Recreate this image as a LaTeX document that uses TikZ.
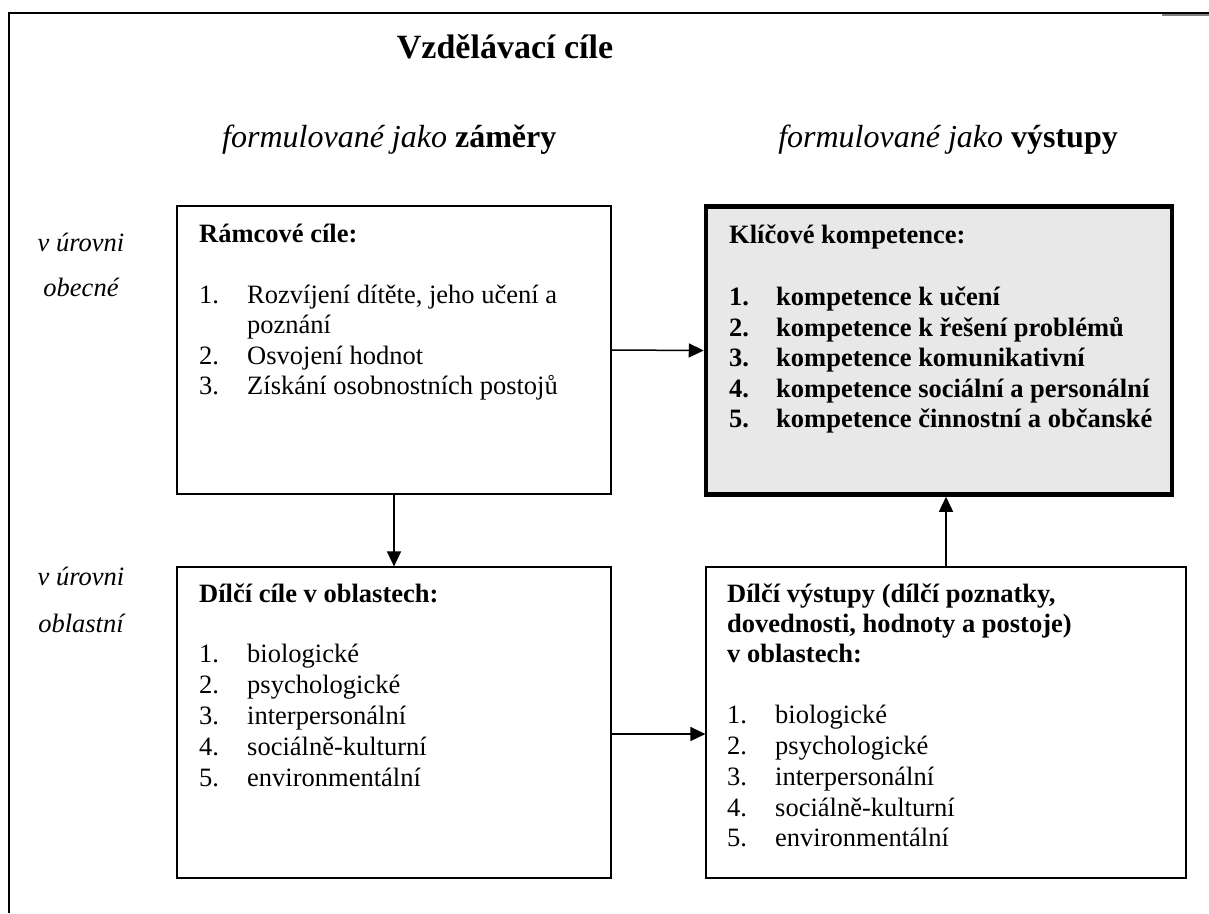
\documentclass[tikz,border=0pt]{standalone}
\usepackage{fontspec}
\setmainfont{Liberation Serif}
\usetikzlibrary{arrows.meta,calc}
\definecolor{boxgray}{RGB}{232,232,232}
\begin{document}
\begin{tikzpicture}[x=1pt,y=-1pt,
  box/.style={draw=black, line width=1.2pt, rectangle, inner sep=0pt},
  thickbox/.style={draw=black, line width=4.5pt, fill=boxgray, rectangle, inner sep=0pt},
  txt/.style={anchor=base west, inner sep=0pt, font=\fontsize{26.5}{30}\selectfont},
  btxt/.style={txt, font=\fontsize{26.5}{30}\selectfont\bfseries},
  lbl/.style={anchor=base, inner sep=0pt, font=\fontsize{26.5}{30}\selectfont\itshape},
  arr/.style={line width=1.5pt, -{Triangle[length=15pt,width=14pt]}},
  frame/.style={line width=2pt, black}]
\useasboundingbox (0,0) rectangle (1209,913);
% outer frame
\draw[frame] (9,913) -- (9,13) -- (1209,13);
\draw[line width=1.5pt, gray] (1162,15) -- (1209,15);
% title and headings
\node[anchor=base, inner sep=0pt, font=\fontsize{34}{40}\selectfont\bfseries] (title) at (505,58) {Vzdělávací cíle};
\node[anchor=base west, inner sep=0pt, font=\fontsize{32}{38}\selectfont] (h1) at (222,147) {\textit{formulované jako} \textbf{záměry}};
\node[anchor=base east, inner sep=0pt, font=\fontsize{32}{38}\selectfont] (h2) at (1118,147) {\textit{formulované jako} \textbf{výstupy}};
% left labels
\node[lbl] (l1) at (81,251) {v úrovni};
\node[lbl] (l2) at (81,296) {obecné};
\node[lbl] (l3) at (81,585) {v úrovni};
\node[lbl] (l4) at (81,632) {oblastní};
% boxes
\node[box, minimum width=434pt, minimum height=288pt] (b1) at (394,350) {};
\node[thickbox, minimum width=466pt, minimum height=288pt] (b2) at (939,350.5) {};
\node[box, minimum width=434pt, minimum height=311pt] (b3) at (394,722.5) {};
\node[box, minimum width=480pt, minimum height=311pt] (b4) at (946,722.5) {};
% box 1 text
\node[btxt] (t1h) at (199,242) {Rámcové cíle:};
\node[txt] (t1n1) at (199,303) {1.};
\node[txt] (t1i1) at (247,303) {Rozvíjení dítěte, jeho učení a};
\node[txt] (t1i1b) at (247,333) {poznání};
\node[txt] (t1n2) at (199,364) {2.};
\node[txt] (t1i2) at (247,364) {Osvojení hodnot};
\node[txt] (t1n3) at (199,394) {3.};
\node[txt] (t1i3) at (247,394) {Získání osobnostních postojů};
% box 2 text
\node[btxt] (t2h) at (729,243) {Klíčové kompetence:};
\node[btxt] (t2n1) at (729,305) {1.};
\node[btxt] (t2i1) at (776,305) {kompetence k učení};
\node[btxt] (t2n2) at (729,336) {2.};
\node[btxt] (t2i2) at (776,336) {kompetence k řešení problémů};
\node[btxt] (t2n3) at (729,366) {3.};
\node[btxt] (t2i3) at (776,366) {kompetence komunikativní};
\node[btxt] (t2n4) at (729,397) {4.};
\node[btxt] (t2i4) at (776,397) {kompetence sociální a personální};
\node[btxt] (t2n5) at (729,427) {5.};
\node[btxt] (t2i5) at (776,427) {kompetence činnostní a občanské};
% box 3 text
\node[btxt] (t3h) at (199,602) {Dílčí cíle v oblastech:};
\node[txt] (t3n1) at (199,662) {1.};
\node[txt] (t3i1) at (247,662) {biologické};
\node[txt] (t3n2) at (199,693) {2.};
\node[txt] (t3i2) at (247,693) {psychologické};
\node[txt] (t3n3) at (199,724) {3.};
\node[txt] (t3i3) at (247,724) {interpersonální};
\node[txt] (t3n4) at (199,755) {4.};
\node[txt] (t3i4) at (247,755) {sociálně-kulturní};
\node[txt] (t3n5) at (199,786) {5.};
\node[txt] (t3i5) at (247,786) {environmentální};
% box 4 text
\node[btxt] (t4h1) at (727,602) {Dílčí výstupy (dílčí poznatky,};
\node[btxt] (t4h2) at (727,632) {dovednosti, hodnoty a postoje)};
\node[btxt] (t4h3) at (727,662) {v oblastech:};
\node[txt] (t4n1) at (727,723) {1.};
\node[txt] (t4i1) at (775,723) {biologické};
\node[txt] (t4n2) at (727,754) {2.};
\node[txt] (t4i2) at (775,754) {psychologické};
\node[txt] (t4n3) at (727,785) {3.};
\node[txt] (t4i3) at (775,785) {interpersonální};
\node[txt] (t4n4) at (727,816) {4.};
\node[txt] (t4i4) at (775,816) {sociálně-kulturní};
\node[txt] (t4n5) at (727,846) {5.};
\node[txt] (t4i5) at (775,846) {environmentální};
% connectors
\draw[arr] (b1.east) -- (b2.west);
\draw[arr] (b1.south) -- (b3.north);
\draw[arr] ([yshift=-11.5pt]b3.east) -- ([yshift=-11.5pt]b4.west);
\draw[arr] (b4.north) -- (b4.north |- b2.south);
\end{tikzpicture}
\end{document}
